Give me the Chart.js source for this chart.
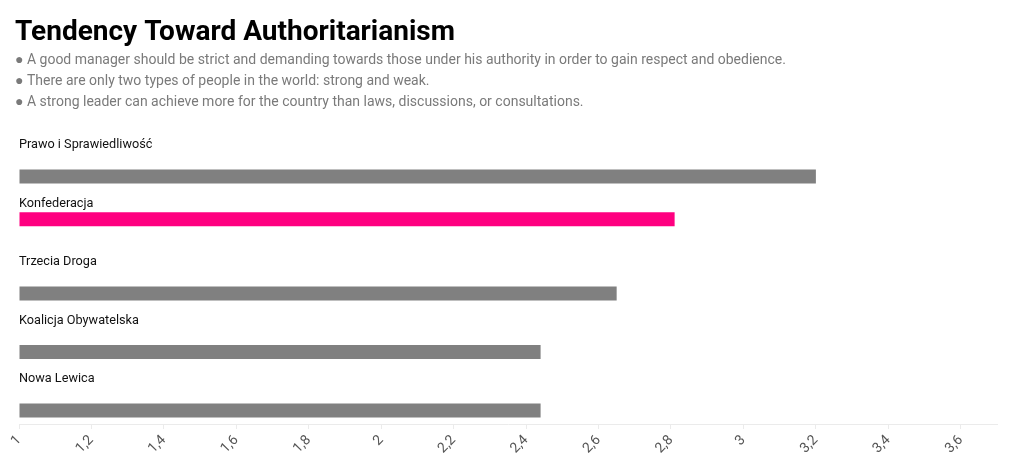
<!DOCTYPE html>
<html>
<head>
<meta charset="utf-8">
<script src="https://cdn.jsdelivr.net/npm/chart.js@4"></script>
<style>
  html, body { margin: 0; padding: 0; background: #fff; }
  #wrap { width: 1020px; height: 474px; }
</style>
</head>
<body>
<div id="wrap"><canvas id="chart"></canvas></div>
<script>
const parties = ['Prawo i Sprawiedliwość', 'Konfederacja', 'Trzecia Droga', 'Koalicja Obywatelska', 'Nowa Lewica'];
const scores = [3.2, 2.81, 2.65, 2.44, 2.44];
const highlighted = 'Konfederacja';
const statements = [
    '● A good manager should be strict and demanding towards those under his authority in order to gain respect and obedience.',
    '● There are only two types of people in the world: strong and weak.',
    '● A strong leader can achieve more for the country than laws, discussions, or consultations.'
];
const xMin = 1;
const xMax = 3.7;

const greyData = scores.map((v, i) => parties[i] === highlighted ? null : v);
const pinkData = scores.map((v, i) => parties[i] === highlighted ? v : null);

// draws the party name in the empty first slot of each category
const partyLabels = {
    id: 'partyLabels',
    afterDatasetsDraw(chart) {
        const ctx = chart.ctx;
        const yScale = chart.scales.y;
        const slot = (yScale.height / parties.length) * 0.8 / 3;
        ctx.save();
        ctx.font = '12.7px Roboto';
        ctx.fillStyle = '#111';
        ctx.textBaseline = 'middle';
        parties.forEach((p, i) => {
            ctx.fillText(p, chart.chartArea.left, yScale.getPixelForValue(i) - slot);
        });
        ctx.restore();
    }
};

new Chart(document.getElementById('chart'), {
    type: 'bar',
    data: {
        labels: parties,
        datasets: [
            { label: 'labels', data: parties.map(() => null), backgroundColor: 'transparent' },
            { label: 'highlight', data: pinkData, backgroundColor: '#ff0080', base: xMin },
            { label: 'score', data: greyData, backgroundColor: '#808080', base: xMin }
        ]
    },
    options: {
        indexAxis: 'y',
        responsive: true,
        maintainAspectRatio: false,
        animation: false,
        categoryPercentage: 0.8,
        barPercentage: 0.9,
        layout: { padding: { left: 15, right: 23, top: 8, bottom: 14 } },
        plugins: {
            legend: { display: false },
            tooltip: { enabled: false },
            title: {
                display: true,
                text: 'Tendency Toward Authoritarianism',
                align: 'start',
                color: '#000',
                font: { family: 'Roboto', size: 28, weight: 'bold' },
                padding: { top: 8, bottom: 0 }
            },
            subtitle: {
                display: true,
                text: statements,
                align: 'start',
                color: '#7a7a7a',
                font: { family: 'Roboto', size: 14, lineHeight: 1.5 },
                padding: { top: 0, bottom: 19 }
            }
        },
        scales: {
            y: {
                display: true,
                ticks: { display: false },
                grid: { display: false },
                border: { display: false },
                afterFit: s => { s.width = 4; }
            },
            x: {
                min: xMin,
                max: xMax,
                border: { color: '#ebebeb' },
                grid: { drawOnChartArea: false, drawTicks: true, tickLength: 5, color: '#ebebeb' },
                ticks: {
                    stepSize: 0.2,
                    includeBounds: false,
                    minRotation: 45,
                    maxRotation: 45,
                    color: '#555',
                    font: { family: 'Roboto', size: 14 },
                    callback: v => String(Math.round(v * 10) / 10).replace('.', ',')
                }
            }
        }
    },
    plugins: [partyLabels]
});
</script>
</body>
</html>
